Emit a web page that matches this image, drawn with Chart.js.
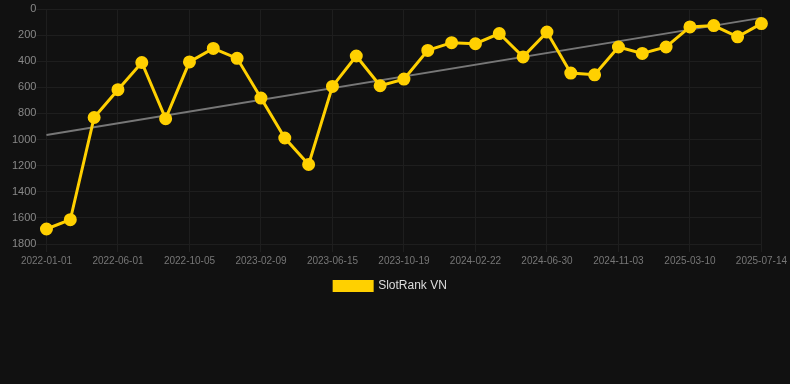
<!DOCTYPE html>
<html>
<head>
<meta charset="utf-8">
<script src="https://cdn.jsdelivr.net/npm/chart.js@4/dist/chart.umd.min.js"></script>
<style>
  html, body { margin: 0; padding: 0; background: #111111; }
  #wrap { width: 790px; height: 384px; position: relative; }
</style>
</head>
<body>
<div id="wrap"><canvas id="rankChart"></canvas></div>
<script>
const dates = ['2022-01-01', '2022-03-09', '2022-04-20', '2022-06-01', '2022-07-13', '2022-08-24',
  '2022-10-05', '2022-11-16', '2022-12-28', '2023-02-09', '2023-03-23', '2023-05-04',
  '2023-06-15', '2023-07-27', '2023-09-07', '2023-10-19', '2023-11-30', '2024-01-11',
  '2024-02-22', '2024-04-04', '2024-05-16', '2024-06-30', '2024-08-11', '2024-09-22',
  '2024-11-03', '2024-12-15', '2025-01-26', '2025-03-10', '2025-04-21', '2025-06-02', '2025-07-14']
const rankVN = [1685, 1614, 831, 618, 410, 840, 405, 302, 378, 682, 988, 1191, 593,
  360, 588, 537, 317, 258, 266, 188, 367, 177, 491, 504, 291, 340, 291, 137, 127, 213, 112]
// trend line, only ends are known
const trendStart = 965
const trendEnd = 68
const trend = dates.map((d, i) => i === 0 ? trendStart : (i === dates.length - 1 ? trendEnd : null))

const yMax = 1800
const yStep = 200

new Chart(document.getElementById('rankChart'), {
  type: 'line',
  data: {
    labels: dates,
    datasets: [{
      label: 'SlotRank VN',
      data: rankVN,
      borderColor: '#ffd000',
      backgroundColor: '#ffd000',
      borderWidth: 3,
      pointRadius: 5,
      pointHoverRadius: 6,
      tension: 0
    }, {
      label: 'trend',
      data: trend,
      borderColor: '#777777',
      borderWidth: 2,
      pointRadius: 0,
      spanGaps: true,
      tension: 0
    }]
  },
  options: {
    responsive: true,
    maintainAspectRatio: false,
    animation: false,
    layout: { padding: { top: 0, bottom: 82, left: 12, right: 21 } },
    scales: {
      x: {
        grid: { color: '#1e1e1e' },
        border: { display: false },
        ticks: { color: '#777777', font: { size: 10 }, maxRotation: 0, autoSkip: true }
      },
      y: {
        reverse: true,
        min: 0,
        max: yMax,
        grid: { color: '#1e1e1e', tickLength: 10 },
        border: { display: false },
        ticks: { stepSize: yStep, padding: 0, color: '#888888', font: { size: 11 }, callback: v => String(v) }
      }
    },
    plugins: {
      legend: {
        position: 'bottom',
        labels: {
          color: '#dddddd',
          font: { size: 12 },
          boxWidth: 38,
          boxHeight: 9,
          filter: item => item.text !== 'trend'
        }
      },
      tooltip: { enabled: false }
    }
  }
})
</script>
</body>
</html>
